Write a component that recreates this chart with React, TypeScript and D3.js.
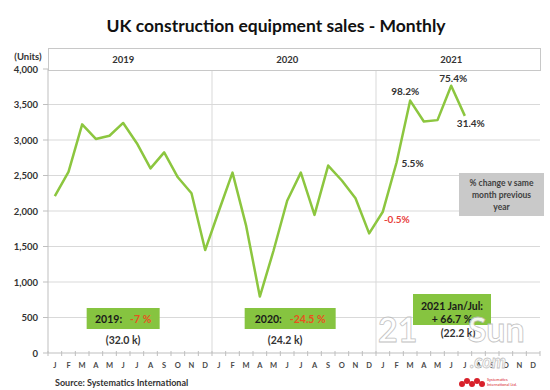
import * as d3 from 'd3';

const months = ['J', 'F', 'M', 'A', 'M', 'J', 'J', 'A', 'S', 'O', 'N', 'D'];
const years = ['2019', '2020', '2021'];

// monthly unit sales
const sales2019 = [2210, 2550, 3220, 3015, 3060, 3240, 2955, 2600, 2825, 2475, 2250, 1450];
const sales2020 = [2000, 2540, 1790, 795, 1440, 2145, 2540, 1945, 2640, 2430, 2180, 1685];
const sales2021 = [1990, 2680, 3555, 3260, 3280, 3765, 3340];

const yTicks = [0, 500, 1000, 1500, 2000, 2500, 3000, 3500, 4000];

// % change v same month previous year (2021 month index -> label)
const yoyMonths = [0, 1, 2, 5, 6];
const yoyLabels = ['-0.5%', '5.5%', '98.2%', '75.4%', '31.4%'];

const annualTitle = ['2019:', '2020:', '2021 Jan/Jul:'];
const annualChange = ['-7 %', '-24.5 %', '+ 66.7 %'];
const annualTotals = ['(32.0 k)', '(24.2 k)', '(22.2 k)'];

const W = 550;
const H = 390;
const FONT = "Lato, 'Open Sans', sans-serif";
const GREEN = '#8cc63f';
const BOX_GREEN = '#86c440';
const ORANGE = '#e8521f';
const TEXT = '#333';

export default function App() {
  const left = 48;
  const right = 540;
  const top = 69;
  const bottom = 353;

  const keys = years.flatMap((yr) => months.map((_, i) => `${yr}-${i}`));
  const x = d3.scaleBand<string>().domain(keys).range([left, right]).padding(0);
  const bw = x.bandwidth();
  const cx = (k: string) => (x(k) ?? 0) + bw / 2;
  const y = d3.scaleLinear().domain([0, 4000]).range([bottom, top]);

  const allSales = [sales2019, sales2020, sales2021];
  const points: [number, number][] = [];
  allSales.forEach((arr, yi) =>
    arr.forEach((v, i) => points.push([cx(`${years[yi]}-${i}`), y(v)]))
  );
  const line = d3.line<[number, number]>().x((d) => d[0]).y((d) => d[1]);

  const fmt = d3.format(',');

  // label offsets relative to the data point (layout only)
  const yoyOffsets: [number, number][] = [[14, 11], [16, 4], [-5, -6], [2, -4], [6, 11]];

  const yearStart = (yi: number) => x(`${years[yi]}-0`) ?? 0;
  const yearMid = (yi: number) => cx(`${years[yi]}-5`);

  return (
    <svg
      width={W}
      height={H}
      style={{ position: 'absolute', left: 0, top: 0, background: '#fff' }}
      fontFamily={FONT}
    >
      <rect width={W} height={H} fill="#fff" />

      <text x={276} y={32} textAnchor="middle" fontSize={17.5} fontWeight="bold" fill="#111">
        UK construction equipment sales - Monthly
      </text>

      {/* gridlines */}
      {yTicks.filter((t) => t > 0).map((t) => (
        <line key={t} x1={left} x2={right} y1={y(t)} y2={y(t)} stroke="#d9d9d9" strokeWidth={1} />
      ))}

      {/* year dividers */}
      {[1, 2].map((yi) => (
        <line key={yi} x1={yearStart(yi)} x2={yearStart(yi)} y1={71} y2={bottom} stroke="#d9d9d9" strokeWidth={1} />
      ))}

      {/* header box with years */}
      <rect x={left + 0.5} y={48.5} width={right - left} height={22} fill="#fff" stroke="#c8c8c8" strokeWidth={1} />
      {years.map((yr, yi) => (
        <text key={yr} x={yearMid(yi)} y={63} textAnchor="middle" fontSize={9.5} fontWeight="bold" fill={TEXT}>
          {yr}
        </text>
      ))}

      {/* y axis */}
      <line x1={left} x2={left} y1={top} y2={bottom} stroke="#bfbfbf" />
      {yTicks.map((t) => (
        <g key={t}>
          <line x1={left - 5} x2={left} y1={y(t)} y2={y(t)} stroke="#bfbfbf" />
          <text x={38} y={y(t) + 3.5} textAnchor="end" fontSize={9.5} fontWeight="bold" fill={TEXT}>
            {fmt(t)}
          </text>
        </g>
      ))}
      <text x={28} y={60} textAnchor="middle" fontSize={9.5} fontWeight="bold" fill={TEXT}>
        (Units)
      </text>

      {/* x axis */}
      <line x1={left} x2={right} y1={bottom} y2={bottom} stroke="#bfbfbf" />
      {keys.map((k) => (
        <line key={k} x1={x(k)} x2={x(k)} y1={bottom - 2} y2={bottom + 3} stroke="#bfbfbf" />
      ))}
      <line x1={right} x2={right} y1={bottom - 2} y2={bottom + 3} stroke="#bfbfbf" />
      {keys.map((k, i) => (
        <text key={k} x={cx(k)} y={368} textAnchor="middle" fontSize={7.5} fontWeight="bold" fill="#4a4a4a">
          {months[i % 12]}
        </text>
      ))}

      {/* sales line */}
      <path d={line(points) ?? ''} fill="none" stroke={GREEN} strokeWidth={2.5} strokeLinejoin="round" />

      {/* yoy labels */}
      {yoyMonths.map((m, i) => {
        const k = `2021-${m}`;
        return (
          <text
            key={k}
            x={cx(k) + yoyOffsets[i][0]}
            y={y(sales2021[m]) + yoyOffsets[i][1]}
            textAnchor="middle"
            fontSize={10}
            fontWeight="bold"
            fill={yoyLabels[i].startsWith('-') ? '#e8413c' : TEXT}
          >
            {yoyLabels[i]}
          </text>
        );
      })}

      {/* grey legend box */}
      <rect x={459} y={173} width={85} height={43} fill="#c9c9c9" />
      {['% change v same', 'month previous', 'year'].map((s, i) => (
        <text key={s} x={501.5} y={186 + i * 12} textAnchor="middle" fontSize={8.5} fontWeight="bold" fill="#404040">
          {s}
        </text>
      ))}

      {/* annual summary boxes */}
      {[0, 1].map((yi) => {
        const w = yi === 0 ? 73 : 91;
        const c = yearMid(yi) + (yi === 0 ? 0 : 3);
        return (
          <g key={yi}>
            <rect x={c - w / 2} y={308} width={w} height={21} fill={BOX_GREEN} />
            <text x={c} y={322.5} textAnchor="middle" fontSize={10.5} fontWeight="bold" fill="#1a1a1a">
              {annualTitle[yi]}
              <tspan fill={ORANGE} dx={8}>{annualChange[yi]}</tspan>
            </text>
            <text x={yearMid(yi) - (yi === 0 ? 0 : 2)} y={344} textAnchor="middle" fontSize={10.5} fontWeight="bold" fill={TEXT}>
              {annualTotals[yi]}
            </text>
          </g>
        );
      })}
      <rect x={413} y={294} width={78} height={31} fill={BOX_GREEN} />
      <text x={452} y={310} textAnchor="middle" fontSize={10.5} fontWeight="bold" fill="#1a1a1a">
        {annualTitle[2]}
      </text>
      <text x={452} y={323} textAnchor="middle" fontSize={10.5} fontWeight="bold" fill="#1a1a1a">
        {annualChange[2]}
      </text>
      <text x={458} y={337} textAnchor="middle" fontSize={10.5} fontWeight="bold" fill={TEXT}>
        {annualTotals[2]}
      </text>

      {/* watermark */}
      <g opacity={0.9} fontWeight="bold" fill="#fff" stroke="#bdbdbd" strokeWidth={0.8}>
        <text x={378} y={342} fontSize={34}>21</text>
        <text x={468} y={342} fontSize={34}>Sun</text>
        <text x={470} y={368} fontSize={18} fontStyle="italic">.com</text>
      </g>

      {/* source + logo */}
      <text x={55} y={386} fontSize={9} fontWeight="bold" fill="#333">
        Source: Systematics International
      </text>
      {[0, 1, 2, 3, 4].map((i) => (
        <circle key={i} cx={462 + i * 5} cy={384 - (i % 2) * 3} r={3} fill="#d8202a" />
      ))}
      <text x={487} y={381} fontSize={4} fill="#d8202a">Systematics</text>
      <text x={487} y={386} fontSize={4} fill="#d8202a">International Ltd.</text>
    </svg>
  );
}
